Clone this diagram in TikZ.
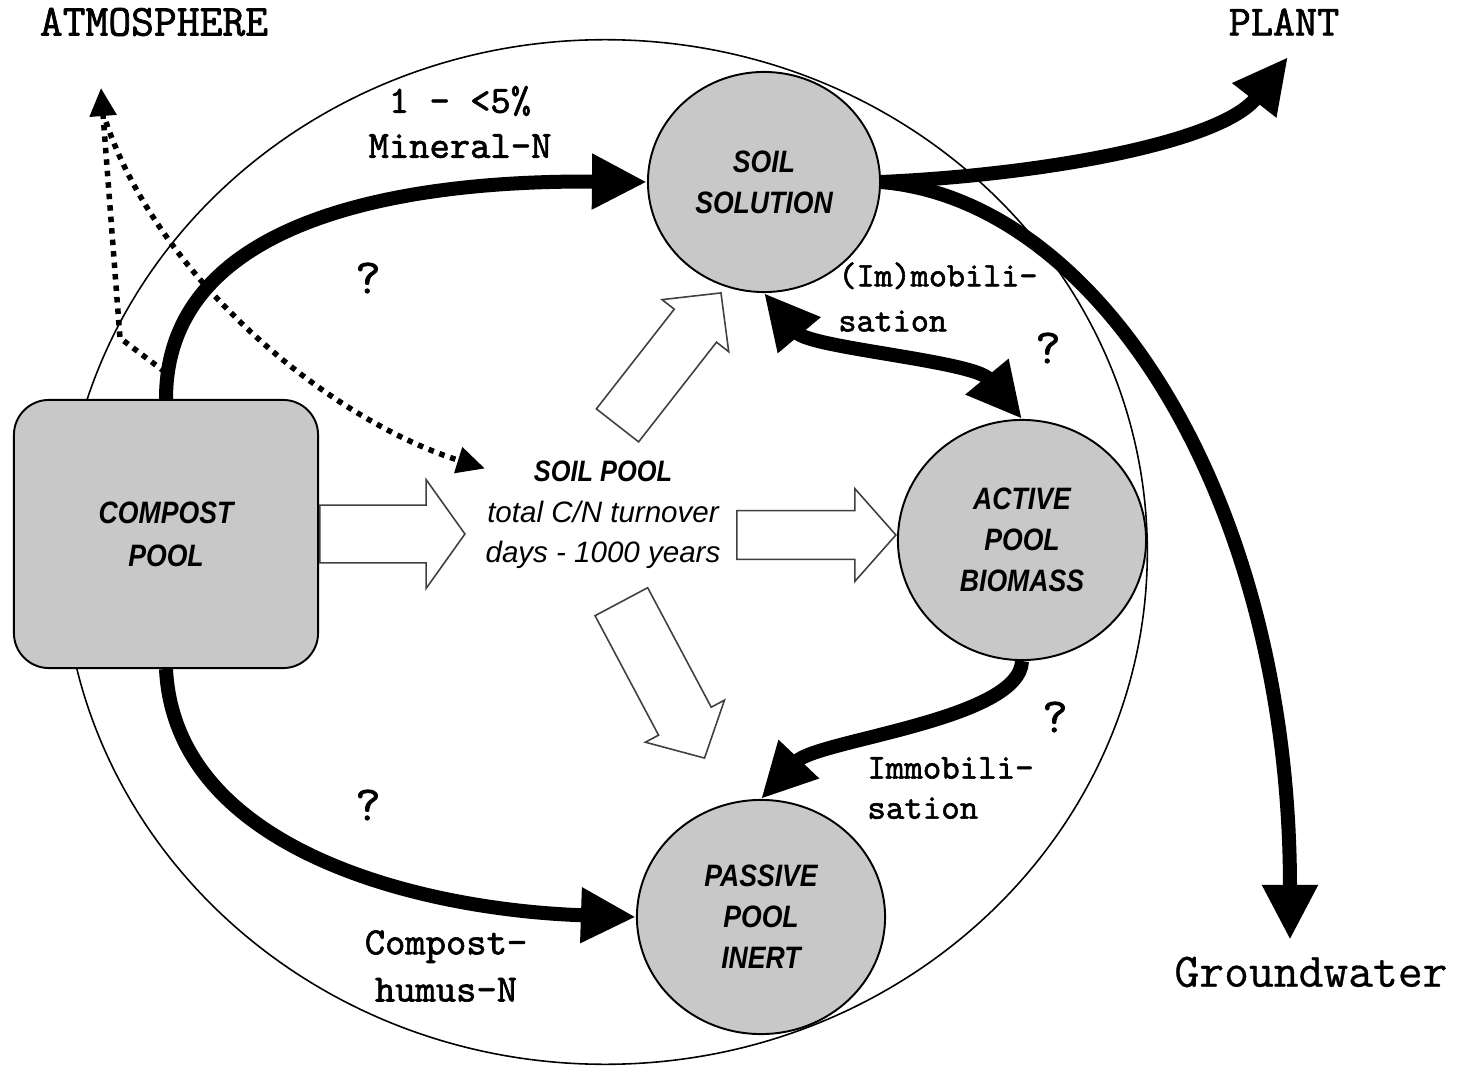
\documentclass[tikz,border=0pt]{standalone}
\usepackage{fontspec}
\usepackage{tikz}
\usetikzlibrary{arrows.meta,shapes.geometric,shapes.arrows}
\newfontfamily\poolfont[FakeStretch=0.86]{Liberation Sans}
\newfontfamily\turnfont{Liberation Sans}
\newfontfamily\labelmono[FakeBold=1.6]{Latin Modern Mono}
\newfontfamily\plainmono[FakeBold=0.6]{Latin Modern Mono}
\definecolor{poolgray}{RGB}{200,200,200}

\begin{document}
\begin{tikzpicture}[x=0.01cm,y=-0.01cm,
  pool/.style={draw,line width=0.55pt,fill=poolgray,ellipse,inner sep=0pt,align=center,
    font=\poolfont\bfseries\itshape\fontsize{8.8}{11.7}\selectfont},
  flow/.style={line width=0.14cm,-{Triangle[length=0.55cm,width=0.52cm]}},
  gas/.style={line width=0.055cm,dash pattern=on 0.055cm off 0.06cm,-{Triangle[length=0.28cm,width=0.26cm]}},
  note/.style={font=\labelmono\fontsize{11}{12.8}\selectfont,align=center},
  query/.style={font=\labelmono\fontsize{14}{14}\selectfont},
  hollow/.style={single arrow,draw=black!75,line width=0.45pt,fill=white,inner xsep=0pt,minimum width=0pt,anchor=tail}
]
\useasboundingbox (0,0) rectangle (1463,1070);

\draw[line width=0.45pt] (605,552) ellipse [x radius=5.42cm, y radius=5.12cm];

\node[draw,line width=0.55pt,fill=poolgray,rounded corners=0.35cm,minimum width=3.04cm,minimum height=2.68cm,
  align=center,font=\poolfont\bfseries\itshape\fontsize{8.8}{12.2}\selectfont] (compost) at (166,534)
{COMPOST\\POOL};

\node[pool,minimum width=2.32cm,minimum height=2.20cm] (soil) at (764,182) {SOIL\\SOLUTION};

\node[pool,minimum width=2.48cm,minimum height=2.40cm] (active) at (1022,540) {ACTIVE\\POOL\\BIOMASS};

\node[pool,minimum width=2.48cm,minimum height=2.34cm] (passive) at (761,917) {PASSIVE\\POOL\\INERT};

\node[align=center,inner sep=0pt,font=\turnfont\itshape\fontsize{8.4}{11.5}\selectfont] (soilpool) at (603,515)
{{\poolfont\bfseries\itshape SOIL POOL}\\total C/N turnover\\days - 1000 years};

\node[hollow,minimum height=1.45cm,inner ysep=0.28cm,single arrow head extend=0.255cm,single arrow tip angle=109] (intake) at (compost.east) {};

\node[hollow,minimum height=1.59cm,inner ysep=0.235cm,single arrow head extend=0.22cm,single arrow tip angle=97] (toactive) at (736,535) {};

\node[hollow,minimum height=1.68cm,inner ysep=0.26cm,single arrow head extend=0.155cm,single arrow tip angle=91,rotate=52] (tosoil) at (617,426) {};

\node[hollow,minimum height=1.77cm,inner ysep=0.29cm,single arrow head extend=0.15cm,single arrow tip angle=94,rotate=-62] (topassive) at (621,601) {};

\node[font=\labelmono\fontsize{12.6}{14}\selectfont] (atmosphere) at (154,22) {ATMOSPHERE};

\node[font=\labelmono\fontsize{12.2}{14}\selectfont] (plant) at (1284,22) {PLANT};

\node[font=\plainmono\fontsize{13.7}{15}\selectfont] (groundwater) at (1311,972) {Groundwater};

\node[note] (mineral) at (460,122) {1 - <5\%\\Mineral-N};

\node[note,font=\labelmono\fontsize{11}{13.4}\selectfont] (humus) at (446,966) {Compost-\\humus-N};

\node[note,align=left,anchor=west,font=\labelmono\fontsize{9.8}{12.8}\selectfont] (mobil) at (826,297) {(Im)mobili-\\sation};

\node[note,align=left,anchor=west,font=\labelmono\fontsize{10}{11.4}\selectfont] (immobil) at (855,788) {Immobili-\\sation};

\node[query] (q1) at (368,278) {?};
\node[query] (q2) at (368,805) {?};
\node[query] (q3) at (1048,348) {?};
\node[query] (q4) at (1055,717) {?};

\coordinate (toplant) at (1288,57);
\coordinate (towater) at (1290,940);
\coordinate (atm) at (101,88);
\coordinate (gasout) at (165,372);
\coordinate (gasin) at (106,122);

\draw[flow] (compost.north) .. controls (166,220) and (400,180) .. (soil.west);

\draw[flow] (compost.south) .. controls (175,850) and (420,910) .. (passive.west);

\draw[flow] (soil.east) .. controls (1040,175) and (1221,143) .. (toplant);

\draw[flow] (soil.east) .. controls (1100,200) and (1290,500) .. (towater);

\draw[flow,{Triangle[length=0.55cm,width=0.52cm]}-{Triangle[length=0.55cm,width=0.52cm]}] (soil.south) .. controls (810,348) and (974,361) .. (active.north);

\draw[flow] (active.south) .. controls (1020,720) and (817,740) .. (passive.north);

\draw[gas] (gasout) -- (120,338) -- (atm);

\draw[gas] (gasin) .. controls (160,280) and (330,420) .. ([yshift=-0.08cm]soilpool.north west);
\end{tikzpicture}
\end{document}
